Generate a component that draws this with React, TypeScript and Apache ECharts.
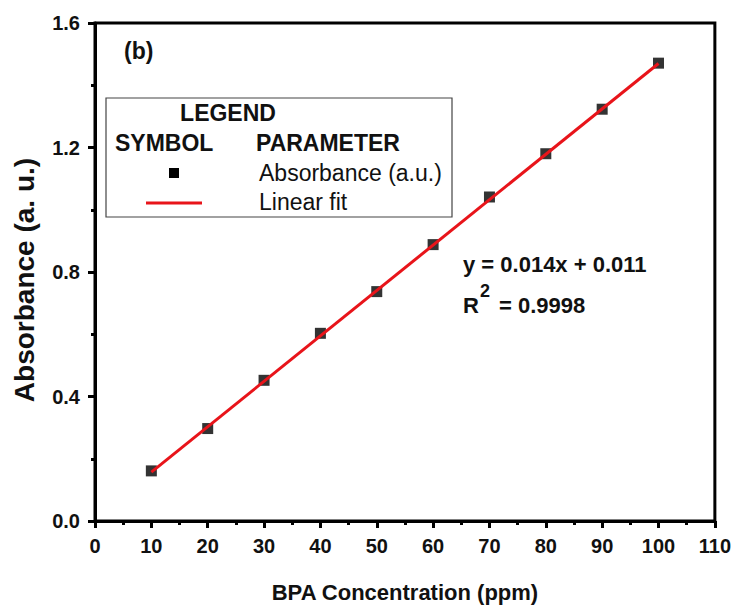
import React, { useEffect, useRef } from "react";
import * as echarts from "echarts";

// BPA calibration: concentration (ppm) vs. absorbance
const concentration = [10, 20, 30, 40, 50, 60, 70, 80, 90, 100];
const absorbance = [0.161, 0.297, 0.452, 0.603, 0.737, 0.888, 1.041, 1.18, 1.323, 1.471];

// Linear-fit line end points
const fitX = [10, 100];
const fitY = [0.157, 1.47];

const xTicks = [0, 10, 20, 30, 40, 50, 60, 70, 80, 90, 100, 110];
const yTicks = [0, 0.4, 0.8, 1.2, 1.6];

const FONT = "'Liberation Sans', Arial, sans-serif";
const RED = "#e8141a";

export default function App() {
  const ref = useRef<HTMLDivElement>(null);

  useEffect(() => {
    document.body.style.margin = "0";
    if (!ref.current) return;
    const chart = echarts.init(ref.current, undefined, { renderer: "svg" });

    const axisCommon = {
      axisLine: { show: true, lineStyle: { color: "#000", width: 3 } },
      axisTick: { show: true, inside: false, length: 7, lineStyle: { color: "#000", width: 3 } },
      minorTick: { show: true, splitNumber: 2, length: 4, lineStyle: { color: "#000", width: 3 } },
      splitLine: { show: false },
      minorSplitLine: { show: false },
    };

    const txt = (x: number, y: number, text: string, font: string, align = "left") => ({
      type: "text",
      x,
      y,
      z: 11,
      style: { text, font, fill: "#111", align, verticalAlign: "middle" },
    });

    chart.setOption({
      animation: false,
      backgroundColor: "#fff",
      textStyle: { fontFamily: FONT },
      grid: {
        left: 95,
        right: 17,
        top: 23,
        bottom: 86,
        show: true,
        borderColor: "#000",
        borderWidth: 3,
        backgroundColor: "transparent",
      },
      xAxis: {
        type: "value",
        min: xTicks[0],
        max: xTicks[xTicks.length - 1],
        interval: 10,
        ...axisCommon,
        axisLabel: {
          color: "#111",
          fontSize: 20,
          fontWeight: "bold",
          fontFamily: FONT,
          margin: 15,
        },
        name: "BPA Concentration (ppm)",
        nameLocation: "middle",
        nameGap: 60,
        nameTextStyle: { color: "#111", fontSize: 22, fontWeight: "bold", fontFamily: FONT },
      },
      yAxis: {
        type: "value",
        min: yTicks[0],
        max: yTicks[yTicks.length - 1],
        interval: 0.4,
        ...axisCommon,
        axisLabel: {
          color: "#111",
          fontSize: 20,
          fontWeight: "bold",
          fontFamily: FONT,
          margin: 15,
          formatter: (v: number) => v.toFixed(1),
        },
      },
      series: [
        {
          name: "Absorbance (a.u.)",
          type: "scatter",
          data: concentration.map((c, i) => [c, absorbance[i]]),
          symbol: "rect",
          symbolSize: 11,
          itemStyle: { color: "#000" },
          z: 3,
        },
        {
          name: "Linear fit",
          type: "line",
          data: fitX.map((x, i) => [x, fitY[i]]),
          showSymbol: false,
          lineStyle: { color: RED, width: 3 },
          z: 4,
        },
      ],
      graphic: [
        // y-axis title
        {
          type: "text",
          x: 24,
          y: 280,
          rotation: Math.PI / 2,
          z: 11,
          style: {
            text: "Absorbance (a. u.)",
            font: `bold 28px ${FONT}`,
            fill: "#111",
            align: "center",
            verticalAlign: "middle",
          },
        },
        txt(124, 51, "(b)", `bold 23px ${FONT}`),
        {
          type: "rect",
          shape: { x: 106, y: 98, width: 346, height: 119 },
          style: { fill: "#fff", stroke: "#444", lineWidth: 1.2 },
          z: 10,
        },
        txt(228, 113, "LEGEND", `bold 23px ${FONT}`, "center"),
        txt(115, 143, "SYMBOL", `bold 23px ${FONT}`),
        txt(256, 143, "PARAMETER", `bold 23px ${FONT}`),
        {
          type: "rect",
          shape: { x: 169, y: 168, width: 10, height: 10 },
          style: { fill: "#000" },
          z: 11,
        },
        txt(259, 173, "Absorbance (a.u.)", `23px ${FONT}`),
        {
          type: "line",
          shape: { x1: 146, y1: 203, x2: 202, y2: 203 },
          style: { stroke: RED, lineWidth: 3 },
          z: 11,
        },
        txt(259, 202, "Linear fit", `23px ${FONT}`),
        // fit equation
        txt(463, 264, "y = 0.014x + 0.011", `bold 22px ${FONT}`),
        txt(463, 305, "R", `bold 22px ${FONT}`),
        txt(480, 291, "2", `bold 18px ${FONT}`),
        txt(499, 305, "= 0.9998", `bold 22px ${FONT}`),
      ],
    });

    return () => chart.dispose();
  }, []);

  return <div ref={ref} style={{ width: 734, height: 608 }} />;
}
